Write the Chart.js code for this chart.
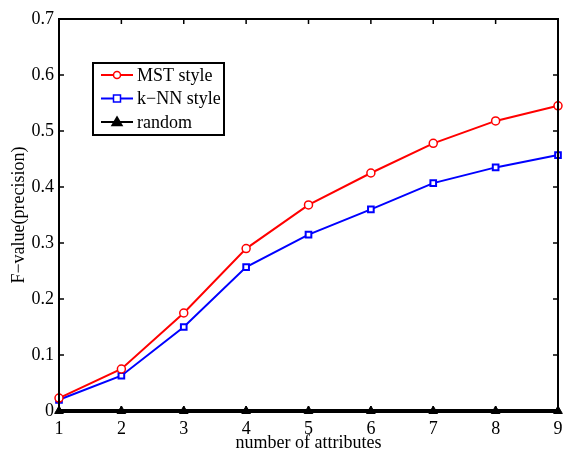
<!DOCTYPE html>
<html>
<head>
<meta charset="utf-8">
<script src="https://cdn.jsdelivr.net/npm/chart.js@4.4.0/dist/chart.umd.min.js"></script>
<style>
  html, body { margin: 0; padding: 0; background: #fff; }
  #wrap { width: 563px; height: 450px; }
</style>
</head>
<body>
<div id="wrap"><canvas id="fvalueChart" width="563" height="450"></canvas></div>
<script>
const attributes = [1, 2, 3, 4, 5, 6, 7, 8, 9];
const mstStyle = [0.023, 0.075, 0.175, 0.29, 0.368, 0.425, 0.478, 0.518, 0.545];
const knnStyle = [0.02, 0.063, 0.15, 0.257, 0.315, 0.36, 0.407, 0.435, 0.457];
const randomPick = [0, 0, 0, 0, 0, 0, 0, 0, 0];
const yTicks = [0, 0.1, 0.2, 0.3, 0.4, 0.5, 0.6, 0.7];

const serif = "'Liberation Serif', 'DejaVu Serif', serif";

function toPoints(values) {
  return attributes.map((x, i) => ({ x, y: values[i] }));
}

// frame with inward ticks on all four sides, like a matlab axes box
const boxFrame = {
  id: "boxFrame",
  afterDatasetsDraw(chart) {
    const { ctx, chartArea: a, scales } = chart;
    ctx.save();
    ctx.strokeStyle = "#000";
    ctx.lineWidth = 2;
    ctx.strokeRect(a.left, a.top, a.right - a.left, a.bottom - a.top);
    ctx.lineWidth = 1.5;
    ctx.beginPath();
    attributes.forEach((v) => {
      const px = scales.x.getPixelForValue(v);
      ctx.moveTo(px, a.bottom); ctx.lineTo(px, a.bottom - 5);
      ctx.moveTo(px, a.top); ctx.lineTo(px, a.top + 5);
    });
    yTicks.forEach((v) => {
      const py = scales.y.getPixelForValue(v);
      ctx.moveTo(a.left, py); ctx.lineTo(a.left + 5, py);
      ctx.moveTo(a.right, py); ctx.lineTo(a.right - 5, py);
    });
    ctx.stroke();
    ctx.restore();
  },
  afterDraw(chart) {
    const { ctx } = chart;
    const box = { x: 93, y: 63, w: 131, h: 72 };
    ctx.save();
    ctx.fillStyle = "#fff";
    ctx.fillRect(box.x, box.y, box.w, box.h);
    ctx.strokeStyle = "#000";
    ctx.lineWidth = 2;
    ctx.strokeRect(box.x, box.y, box.w, box.h);
    chart.data.datasets.forEach((ds, i) => {
      const cy = box.y + 12 + i * 23.5;
      ctx.strokeStyle = ds.borderColor;
      ctx.lineWidth = 2;
      ctx.beginPath();
      ctx.moveTo(101, cy); ctx.lineTo(133, cy);
      ctx.stroke();
      ctx.fillStyle = ds.pointBackgroundColor;
      ctx.beginPath();
      if (ds.pointStyle === "circle") {
        ctx.arc(117, cy, 3.5, 0, Math.PI * 2);
      } else if (ds.pointStyle === "rect") {
        ctx.rect(113.5, cy - 3.5, 7, 7);
      } else {
        ctx.moveTo(117, cy - 5); ctx.lineTo(122, cy + 3.5); ctx.lineTo(112, cy + 3.5); ctx.closePath();
      }
      ctx.fill();
      ctx.lineWidth = 1.5;
      ctx.stroke();
      ctx.fillStyle = "#000";
      ctx.font = "18px " + serif;
      ctx.textBaseline = "middle";
      ctx.fillText(ds.label, 137, cy + 1);
    });
    ctx.restore();
  }
};

new Chart(document.getElementById("fvalueChart").getContext("2d"), {
  type: "line",
  data: {
    datasets: [
      {
        label: "MST style",
        data: toPoints(mstStyle),
        borderColor: "#ff0000",
        pointBackgroundColor: "#ffffff",
        pointBorderColor: "#ff0000",
        pointStyle: "circle",
        pointRadius: 4,
        pointBorderWidth: 1.5,
        borderWidth: 2,
      },
      {
        label: "k\u2212NN style",
        data: toPoints(knnStyle),
        borderColor: "#0000ff",
        pointBackgroundColor: "#ffffff",
        pointBorderColor: "#0000ff",
        pointStyle: "rect",
        pointRadius: 4,
        pointBorderWidth: 2,
        borderWidth: 2,
      },
      {
        label: "random",
        data: toPoints(randomPick),
        borderColor: "#000000",
        pointBackgroundColor: "#000000",
        pointBorderColor: "#000000",
        pointStyle: "triangle",
        pointRadius: 5,
        pointBorderWidth: 1,
        borderWidth: 4,
      },
    ],
  },
  options: {
    responsive: false,
    animation: false,
    clip: false,
    layout: { autoPadding: false, padding: { left: 0, top: 19, right: 5, bottom: 0 } },
    plugins: { legend: { display: false }, tooltip: { enabled: false } },
    elements: { line: { tension: 0 } },
    scales: {
      x: {
        type: "linear",
        min: 1,
        max: 9,
        afterFit: (scale) => {
          scale.height = 39;
          scale.paddingLeft = 0;
          scale.paddingRight = 0;
        },
        afterBuildTicks: (scale) => { scale.ticks = attributes.map((v) => ({ value: v })); },
        grid: { display: false, drawTicks: false },
        border: { display: false },
        ticks: { color: "#000", font: { family: serif, size: 18 }, padding: 7, maxRotation: 0 },
        title: { display: true, text: "number of attributes", color: "#000", font: { family: serif, size: 18 }, padding: { top: 0, bottom: -4 } },
      },
      y: {
        min: 0,
        max: 0.7,
        afterFit: (scale) => { scale.width = 59; },
        afterBuildTicks: (scale) => { scale.ticks = yTicks.map((v) => ({ value: v })); },
        grid: { display: false, drawTicks: false },
        border: { display: false },
        ticks: {
          color: "#000",
          font: { family: serif, size: 18 },
          padding: 5,
          callback: (v) => (v === 0 ? "0" : v.toFixed(1)),
        },
        title: { display: true, text: "F\u2212value(precision)", color: "#000", font: { family: serif, size: 18 }, padding: { top: 8, bottom: 0 } },
      },
    },
  },
  plugins: [boxFrame],
});
</script>
</body>
</html>
